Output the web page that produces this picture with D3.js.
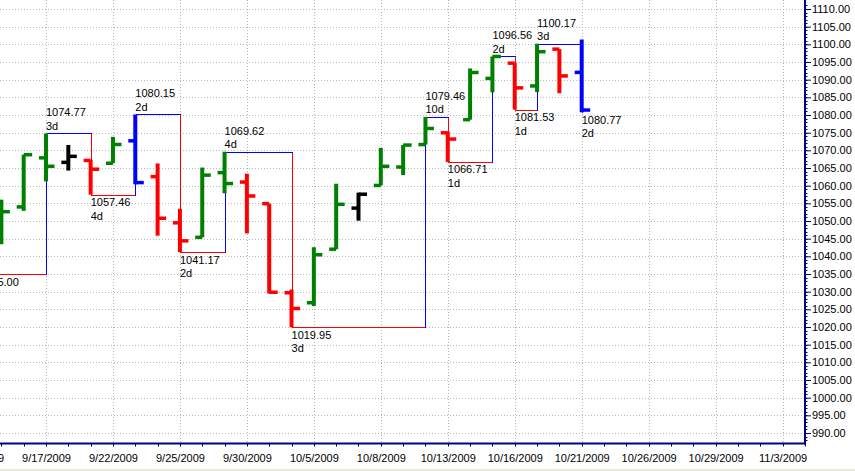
<!DOCTYPE html>
<html><head><meta charset="utf-8">
<script src="https://cdn.jsdelivr.net/npm/d3@7"></script>
<style>
html,body{margin:0;padding:0;background:#fff;}
svg{display:block;font-family:Arial,"Liberation Sans",sans-serif;}
</style></head>
<body>
<svg id="c" width="855" height="471"></svg>
<script>
// Trading days on the axis
const axisDates = ["9/14/2009","9/15/2009","9/16/2009","9/17/2009","9/18/2009","9/21/2009","9/22/2009","9/23/2009","9/24/2009","9/25/2009",
  "9/28/2009","9/29/2009","9/30/2009","10/1/2009","10/2/2009","10/5/2009","10/6/2009","10/7/2009","10/8/2009","10/9/2009",
  "10/12/2009","10/13/2009","10/14/2009","10/15/2009","10/16/2009","10/19/2009","10/20/2009","10/21/2009","10/22/2009","10/23/2009",
  "10/26/2009","10/27/2009","10/28/2009","10/29/2009","10/30/2009","11/2/2009","11/3/2009","11/4/2009"];
// Bars (9/14 .. 10/21)
const barDates = axisDates.slice(0, 28);
const opens  = [1040.15,1049.03,1053.99,1067.87,1066.60,1067.14,1066.35,1072.69,1062.56,1049.48,1045.38,1063.69,1061.02,1054.91,1029.71,1026.87,1042.02,1053.65,1060.06,1065.28,1071.63,1074.96,1078.68,1090.36,1094.67,1088.22,1098.64,1092.05];
const highs  = [1049.74,1056.04,1068.76,1074.77,1071.52,1067.28,1073.81,1080.15,1066.29,1053.47,1065.13,1069.62,1063.40,1054.91,1030.60,1042.58,1060.55,1058.02,1070.67,1071.51,1079.46,1075.30,1093.17,1096.56,1094.67,1100.17,1098.64,1101.36];
const lows   = [1035.00,1043.42,1052.87,1061.20,1064.27,1057.46,1066.35,1060.39,1045.85,1041.17,1045.38,1057.83,1046.47,1029.45,1019.95,1025.92,1042.02,1050.10,1060.06,1063.00,1071.63,1066.71,1078.68,1086.41,1081.53,1086.48,1086.16,1080.77];
const closes = [1049.34,1052.63,1068.76,1065.49,1068.30,1064.66,1071.66,1060.87,1050.78,1044.38,1062.98,1060.61,1057.08,1029.85,1025.21,1040.46,1054.72,1057.58,1065.48,1071.49,1076.19,1073.19,1092.02,1096.56,1087.68,1097.91,1091.06,1081.40];
const barKinds = ["up","up","up","up","inside","down","up","outside","down","down","up","up","down","down","down","up","up","inside","up","up","up","down","up","up","down","up","down","outside"];
// Swing points
const swingDates  = ["9/14/2009","9/17/2009","9/21/2009","9/23/2009","9/25/2009","9/29/2009","10/2/2009","10/12/2009","10/13/2009","10/15/2009","10/16/2009","10/19/2009","10/21/2009"];
const swingPrices = [1035.00,1074.77,1057.46,1080.15,1041.17,1069.62,1019.95,1079.46,1066.71,1096.56,1081.53,1100.17,1080.77];
const swingTypes  = ["L","H","L","H","L","H","L","H","L","H","L","H","L"];
const swingDays   = ["3d","3d","4d","2d","2d","4d","3d","10d","1d","2d","1d","3d","2d"];
// Axis ticks
const yTicks = d3.range(990, 1110.001, 5);
const xLabelDates = axisDates.filter((d, i) => i % 3 === 0);

const kindColor = {up:"#008000", down:"#ff0000", inside:"#000000", outside:"#0000ff"};
const W = 855, H = 471, plotR = 805, plotB = 443.5;

const svg = d3.select("#c");
svg.append("rect").attr("width", W).attr("height", H).attr("fill", "#fff");
svg.append("rect").attr("x", 0).attr("y", 469).attr("width", W).attr("height", 2).attr("fill", "#ece9d8");

const x = d3.scalePoint().domain(axisDates).range([-20.96, 804.9]);
const y = d3.scaleLinear().domain([990, 1110]).range([433, 9]);

svg.append("defs").append("clipPath").attr("id", "clip")
  .append("rect").attr("x", 0).attr("y", 0).attr("width", plotR).attr("height", plotB);

const plot = svg.append("g").attr("clip-path", "url(#clip)");

// Grid
plot.append("g").selectAll("line").data(yTicks).join("line")
  .attr("x1", 0).attr("x2", plotR)
  .attr("y1", d => Math.round(y(d)) + 0.5).attr("y2", d => Math.round(y(d)) + 0.5)
  .attr("stroke", "#b8b8b8").attr("stroke-dasharray", "1,2").attr("stroke-width", 1);
plot.append("g").selectAll("line").data(xLabelDates).join("line")
  .attr("x1", d => Math.round(x(d)) + 0.5).attr("x2", d => Math.round(x(d)) + 0.5)
  .attr("y1", 0).attr("y2", plotB)
  .attr("stroke", "#b8b8b8").attr("stroke-dasharray", "1,2").attr("stroke-width", 1);

// Swing lines
const swings = swingDates.map((d, i) => ({d, p: swingPrices[i], t: swingTypes[i], n: swingDays[i]}));
const segs = [];
swings.forEach((s, k) => {
  const col = s.t === "H" ? "#0000ff" : "#ff0000";
  if (k > 0) segs.push({x1: x(s.d), x2: x(s.d), y1: y(swings[k-1].p), y2: y(s.p), col});
  if (k < swings.length - 1) segs.push({x1: x(s.d), x2: x(swings[k+1].d), y1: y(s.p), y2: y(s.p), col});
});
plot.append("g").selectAll("line").data(segs).join("line")
  .attr("x1", d => Math.round(d.x1) + 0.5).attr("x2", d => Math.round(d.x2) + 0.5)
  .attr("y1", d => Math.round(d.y1) + 0.5).attr("y2", d => Math.round(d.y2) + 0.5)
  .attr("stroke", d => d.col).attr("stroke-width", 1).attr("shape-rendering", "crispEdges");

// Bars
const bars = barDates.map((d, i) => ({d, o: opens[i], h: highs[i], l: lows[i], c: closes[i], k: barKinds[i]}));
const bg = plot.append("g").selectAll("g").data(bars).join("g")
  .attr("stroke", d => kindColor[d.k]);
bg.append("line")
  .attr("x1", d => x(d.d)).attr("x2", d => x(d.d))
  .attr("y1", d => y(d.h)).attr("y2", d => y(d.l))
  .attr("stroke-width", 4);
bg.append("line")
  .attr("x1", d => x(d.d) - 7).attr("x2", d => x(d.d))
  .attr("y1", d => y(d.o)).attr("y2", d => y(d.o))
  .attr("stroke-width", 3.5);
bg.append("line")
  .attr("x1", d => x(d.d)).attr("x2", d => x(d.d) + 8.5)
  .attr("y1", d => y(d.c)).attr("y2", d => y(d.c))
  .attr("stroke-width", 3.5);

// Swing labels
const lg = plot.append("g").attr("font-size", "11px").attr("fill", "#000");
lg.selectAll("text.p").data(swings).join("text").attr("class", "p")
  .attr("x", d => x(d.d)).attr("y", d => y(d.p) + (d.t === "H" ? -17 : 11.5))
  .text(d => d3.format(".2f")(d.p));
lg.selectAll("text.n").data(swings).join("text").attr("class", "n")
  .attr("x", d => x(d.d)).attr("y", d => y(d.p) + (d.t === "H" ? -3.5 : 25))
  .text(d => d.n);

// Y axis
const yAxisG = svg.append("g").attr("transform", `translate(${plotR},0)`)
  .call(d3.axisRight(y).tickValues(yTicks).tickFormat(d3.format(".2f")).tickSize(6).tickPadding(1));
yAxisG.select(".domain").remove();
yAxisG.selectAll(".tick line").attr("stroke", "#000080");
yAxisG.selectAll(".tick text").attr("font-size", "11px").attr("font-family", "Arial,'Liberation Sans',sans-serif").attr("fill", "#000");
svg.append("g").selectAll("line").data(d3.range(988, 1112, 1)).join("line")
  .attr("x1", plotR).attr("x2", plotR + 2.5)
  .attr("y1", d => Math.round(y(d)) + 0.5).attr("y2", d => Math.round(y(d)) + 0.5)
  .attr("stroke", "#000080").attr("stroke-width", 1);
svg.append("line").attr("x1", plotR).attr("x2", plotR).attr("y1", 0).attr("y2", plotB + 1)
  .attr("stroke", "#000080").attr("stroke-width", 2);

// X axis
const xAxisG = svg.append("g").attr("transform", `translate(0,${plotB})`)
  .call(d3.axisBottom(x).tickValues(xLabelDates).tickSize(0).tickPadding(10.5));
xAxisG.select(".domain").remove();
xAxisG.selectAll(".tick text").attr("font-size", "11px").attr("font-family", "Arial,'Liberation Sans',sans-serif").attr("fill", "#000");
svg.append("g").selectAll("line").data(axisDates).join("line")
  .attr("x1", d => Math.round(x(d)) + 0.5).attr("x2", d => Math.round(x(d)) + 0.5)
  .attr("y1", plotB).attr("y2", plotB + 3)
  .attr("stroke", "#000080").attr("stroke-width", 1);
svg.append("line").attr("x1", 0).attr("x2", plotR + 1).attr("y1", plotB).attr("y2", plotB)
  .attr("stroke", "#000080").attr("stroke-width", 2);
</script>
</body></html>
